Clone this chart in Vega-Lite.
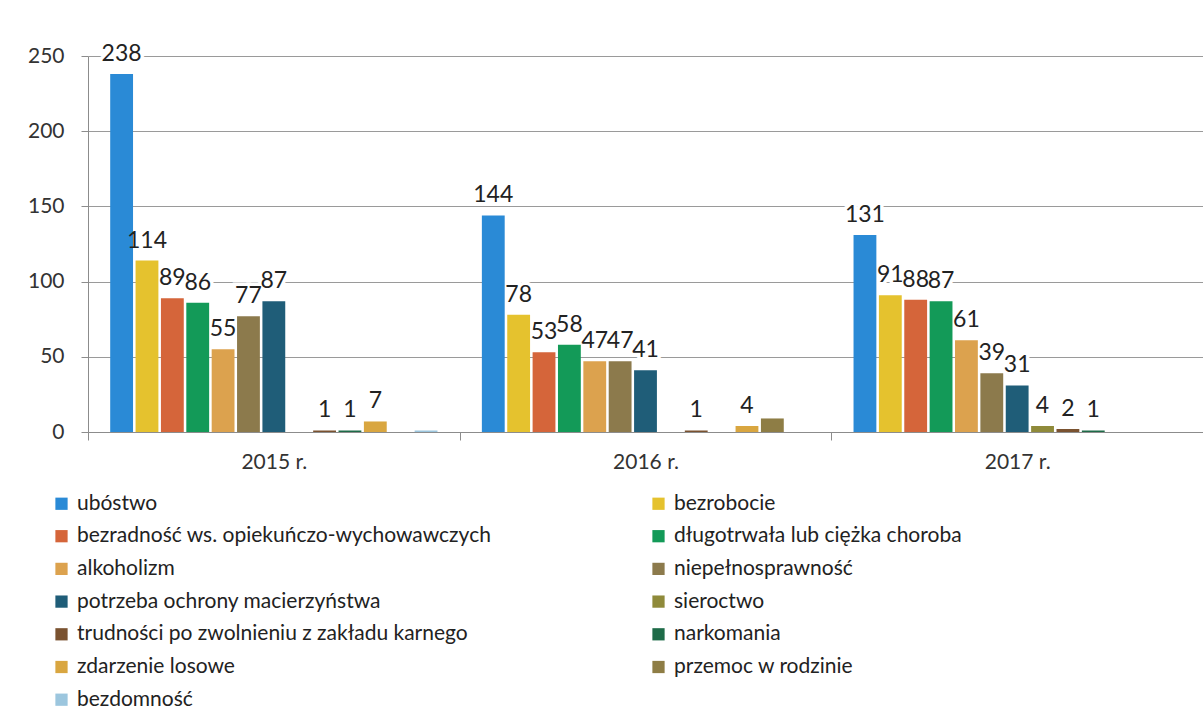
{
  "$schema": "https://vega.github.io/schema/vega-lite/v6.json",
  "autosize": "none",
  "width": 1115,
  "height": 376,
  "padding": {"left": 88, "top": 56, "right": 0, "bottom": 275},
  "background": "white",
  "config": {"font": "Lato", "view": {"stroke": null}},
  "data": {
    "values": [
      {"year": "2015 r.", "category": "ubóstwo", "value": 238, "label": "238"},
      {"year": "2015 r.", "category": "bezrobocie", "value": 114, "label": "114"},
      {"year": "2015 r.", "category": "bezradność ws. opiekuńczo-wychowawczych", "value": 89, "label": "89"},
      {"year": "2015 r.", "category": "długotrwała lub ciężka choroba", "value": 86, "label": "86"},
      {"year": "2015 r.", "category": "alkoholizm", "value": 55, "label": "55"},
      {"year": "2015 r.", "category": "niepełnosprawność", "value": 77, "label": "77"},
      {"year": "2015 r.", "category": "potrzeba ochrony macierzyństwa", "value": 87, "label": "87"},
      {"year": "2015 r.", "category": "sieroctwo", "value": 0, "label": ""},
      {"year": "2015 r.", "category": "trudności po zwolnieniu z zakładu karnego", "value": 1, "label": "1"},
      {"year": "2015 r.", "category": "narkomania", "value": 1, "label": "1"},
      {"year": "2015 r.", "category": "zdarzenie losowe", "value": 7, "label": "7"},
      {"year": "2015 r.", "category": "przemoc w rodzinie", "value": 0, "label": ""},
      {"year": "2015 r.", "category": "bezdomność", "value": 1, "label": ""},
      {"year": "2016 r.", "category": "ubóstwo", "value": 144, "label": "144"},
      {"year": "2016 r.", "category": "bezrobocie", "value": 78, "label": "78"},
      {"year": "2016 r.", "category": "bezradność ws. opiekuńczo-wychowawczych", "value": 53, "label": "53"},
      {"year": "2016 r.", "category": "długotrwała lub ciężka choroba", "value": 58, "label": "58"},
      {"year": "2016 r.", "category": "alkoholizm", "value": 47, "label": "47"},
      {"year": "2016 r.", "category": "niepełnosprawność", "value": 47, "label": "47"},
      {"year": "2016 r.", "category": "potrzeba ochrony macierzyństwa", "value": 41, "label": "41"},
      {"year": "2016 r.", "category": "sieroctwo", "value": 0, "label": ""},
      {"year": "2016 r.", "category": "trudności po zwolnieniu z zakładu karnego", "value": 1, "label": "1"},
      {"year": "2016 r.", "category": "narkomania", "value": 0, "label": ""},
      {"year": "2016 r.", "category": "zdarzenie losowe", "value": 4, "label": "4"},
      {"year": "2016 r.", "category": "przemoc w rodzinie", "value": 9, "label": ""},
      {"year": "2016 r.", "category": "bezdomność", "value": 0, "label": ""},
      {"year": "2017 r.", "category": "ubóstwo", "value": 131, "label": "131"},
      {"year": "2017 r.", "category": "bezrobocie", "value": 91, "label": "91"},
      {"year": "2017 r.", "category": "bezradność ws. opiekuńczo-wychowawczych", "value": 88, "label": "88"},
      {"year": "2017 r.", "category": "długotrwała lub ciężka choroba", "value": 87, "label": "87"},
      {"year": "2017 r.", "category": "alkoholizm", "value": 61, "label": "61"},
      {"year": "2017 r.", "category": "niepełnosprawność", "value": 39, "label": "39"},
      {"year": "2017 r.", "category": "potrzeba ochrony macierzyństwa", "value": 31, "label": "31"},
      {"year": "2017 r.", "category": "sieroctwo", "value": 4, "label": "4"},
      {"year": "2017 r.", "category": "trudności po zwolnieniu z zakładu karnego", "value": 2, "label": "2"},
      {"year": "2017 r.", "category": "narkomania", "value": 1, "label": "1"},
      {"year": "2017 r.", "category": "zdarzenie losowe", "value": 0, "label": ""},
      {"year": "2017 r.", "category": "przemoc w rodzinie", "value": 0, "label": ""},
      {"year": "2017 r.", "category": "bezdomność", "value": 0, "label": ""}
    ]
  },
  "encoding": {
    "x": {
      "field": "year",
      "type": "nominal",
      "scale": {"paddingInner": 0, "paddingOuter": 0},
      "axis": {
        "title": null,
        "labelAngle": 0,
        "tickBand": "extent",
        "tickSize": 8,
        "labelFontSize": 21,
        "labelPadding": 11,
        "labelColor": "#333333",
        "domainColor": "#8c8c8c",
        "tickColor": "#8c8c8c",
        "grid": false
      }
    },
    "xOffset": {
      "field": "category",
      "type": "nominal",
      "sort": ["ubóstwo", "bezrobocie", "bezradność ws. opiekuńczo-wychowawczych", "długotrwała lub ciężka choroba", "alkoholizm", "niepełnosprawność", "potrzeba ochrony macierzyństwa", "sieroctwo", "trudności po zwolnieniu z zakładu karnego", "narkomania", "zdarzenie losowe", "przemoc w rodzinie", "bezdomność"],
      "scale": {"paddingInner": 0.1, "paddingOuter": 0.875}
    },
    "y": {
      "field": "value",
      "type": "quantitative",
      "scale": {"domain": [0, 250], "nice": false},
      "axis": {
        "title": null,
        "values": [0, 50, 100, 150, 200, 250],
        "tickSize": 7,
        "labelPadding": 17,
        "labelFontSize": 21,
        "labelColor": "#333333",
        "gridColor": "#9a9a9a",
        "domainColor": "#8c8c8c",
        "tickColor": "#8c8c8c"
      }
    }
  },
  "layer": [
    {
      "mark": {"type": "text", "dy": -13, "baseline": "alphabetic", "fontSize": 23, "color": "white", "stroke": "white", "strokeWidth": 7},
      "encoding": {"text": {"field": "label", "type": "nominal"}}
    },
    {
      "mark": {"type": "bar"},
      "encoding": {
        "color": {
          "field": "category",
          "type": "nominal",
          "scale": {
            "domain": ["ubóstwo", "bezradność ws. opiekuńczo-wychowawczych", "alkoholizm", "potrzeba ochrony macierzyństwa", "trudności po zwolnieniu z zakładu karnego", "zdarzenie losowe", "bezdomność", "bezrobocie", "długotrwała lub ciężka choroba", "niepełnosprawność", "sieroctwo", "narkomania", "przemoc w rodzinie"],
            "range": ["#2A8AD6", "#D5653A", "#DCA24E", "#1F5D78", "#7A5230", "#D9A640", "#9CC6DE", "#E5C22E", "#139A58", "#8C7A4C", "#8F8A3A", "#1E6B48", "#8E7D45"]
          },
          "legend": {
            "title": null,
            "orient": "none",
            "legendX": -37,
            "legendY": 437,
            "columns": 2,
            "columnPadding": 156,
            "rowPadding": 10.7,
            "symbolType": "square",
            "symbolSize": 150,
            "symbolStrokeWidth": 0,
            "labelFontSize": 21,
            "labelColor": "#222222",
            "labelOffset": 5,
            "labelLimit": 600
          }
        }
      }
    },
    {
      "mark": {"type": "text", "dy": -13, "baseline": "alphabetic", "fontSize": 23, "color": "#222222"},
      "encoding": {"text": {"field": "label", "type": "nominal"}}
    }
  ]
}
